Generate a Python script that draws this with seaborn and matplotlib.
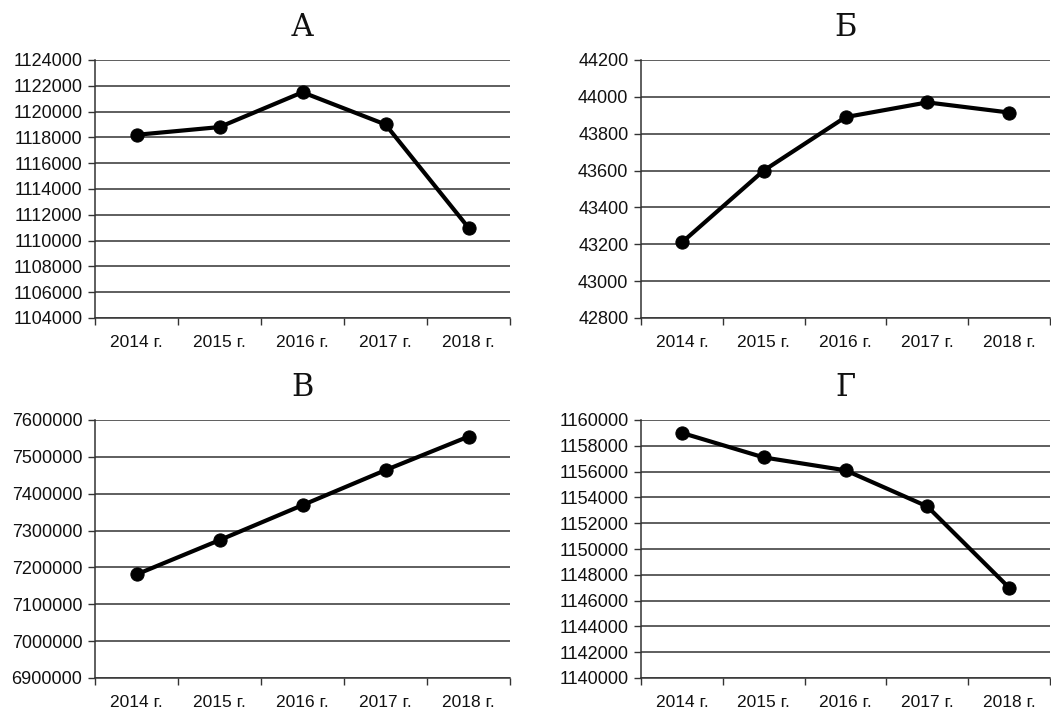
import matplotlib
matplotlib.use("Agg")
import matplotlib.pyplot as plt
import seaborn as sns
import pandas as pd
from matplotlib.ticker import FixedLocator, StrMethodFormatter

years = ["2014 г.", "2015 г.", "2016 г.", "2017 г.", "2018 г."]

values_a = [1118200, 1118800, 1121500, 1119000, 1111000]
values_b = [43210, 43600, 43890, 43970, 43915]
values_c = [7181000, 7274000, 7369000, 7464000, 7555000]
values_d = [1159000, 1157100, 1156100, 1153300, 1147000]

titles = ["А", "Б", "В", "Г"]
ylims = [(1104000, 1124000, 2000), (42800, 44200, 200),
         (6900000, 7600000, 100000), (1140000, 1160000, 2000)]

sns.set_style("white")
plt.rcParams['font.family'] = ['Liberation Sans', 'DejaVu Sans']

fig = plt.figure(figsize=(10.51, 7.10), dpi=100)

W, H = 1051, 710
boxes = [(95, 60, 510, 318), (641, 60, 1050, 318),
         (95, 420, 510, 678), (641, 420, 1050, 678)]

series = [values_a, values_b, values_c, values_d]

for (l, t, r, b), vals, title, (ymin, ymax, step) in zip(boxes, series, titles, ylims):
    ax = fig.add_axes([l / W, 1 - b / H, (r - l) / W, (b - t) / H])
    df = pd.DataFrame({"x": list(range(len(years))), "y": vals})
    ax.set_ylim(ymin, ymax)
    ax.set_xlim(-0.5, len(years) - 0.5)
    yt = list(range(ymin, ymax + 1, step))
    ax.set_yticks(yt)
    for v in yt:
        ax.axhline(v, color="#333333", lw=1.1, zorder=1)
    sns.lineplot(data=df, x="x", y="y", ax=ax, color="black", lw=3.0,
                 marker="o", markersize=9.5, markeredgecolor="black",
                 markerfacecolor="black", zorder=3)
    ax.yaxis.set_major_formatter(StrMethodFormatter("{x:.0f}"))
    ax.set_xticks(list(range(len(years))))
    ax.set_xticklabels(years)
    ax.xaxis.set_minor_locator(FixedLocator([i - 0.5 for i in range(len(years) + 1)]))
    ax.tick_params(axis="x", which="major", length=0, pad=12, labelsize=12.5, colors="#111111")
    ax.tick_params(axis="x", which="minor", length=5, width=1, direction="out", bottom=True, color="#333333")
    ax.tick_params(axis="y", which="major", length=5, width=1, direction="out", left=True, pad=4,
                   labelsize=13, colors="#333333", labelcolor="#111111")
    ax.set_xlabel("")
    ax.set_ylabel("")
    for s in ["top", "right"]:
        ax.spines[s].set_visible(False)
    for s in ["left", "bottom"]:
        ax.spines[s].set_color("#333333")
        ax.spines[s].set_linewidth(1.1)
    cx = (l + r) / 2 / W
    fig.text(cx, 1 - (t - 33) / H, title, ha="center", va="center",
             fontsize=22, family=["DejaVu Serif", "Liberation Serif"], color="#111111")

fig.savefig("out.png", dpi=100, facecolor="white")
